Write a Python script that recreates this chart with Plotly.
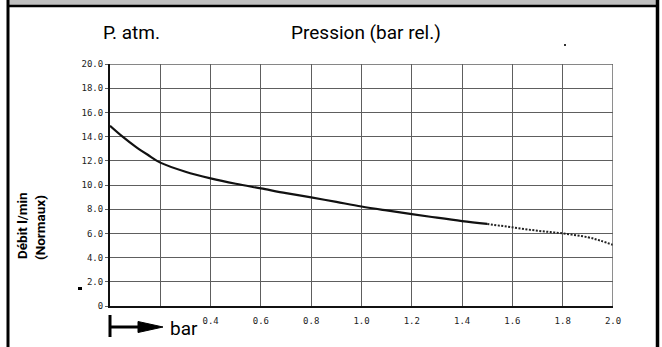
import plotly.graph_objects as go

# Flow curve: measured (solid) part and extrapolated (dotted) part
pressure_solid = [0.0, 0.05, 0.1, 0.15, 0.2, 0.3, 0.4, 0.5, 0.6, 0.7, 0.8, 0.9, 1.0, 1.1, 1.2, 1.3, 1.4, 1.5]
flow_solid = [14.9, 14.0, 13.2, 12.5, 11.85, 11.1, 10.55, 10.1, 9.72, 9.33, 8.98, 8.6, 8.22, 7.9, 7.6, 7.3, 7.02, 6.78]
pressure_dotted = [1.5, 1.6, 1.7, 1.8, 1.9, 1.95, 2.0]
flow_dotted = [6.78, 6.5, 6.22, 6.0, 5.68, 5.4, 5.05]

x_ticks = [0.0, 0.2, 0.4, 0.6, 0.8, 1.0, 1.2, 1.4, 1.6, 1.8, 2.0]
x_tick_labels = ["", "", "0.4", "0.6", "0.8", "1.0", "1.2", "1.4", "1.6", "1.8", "2.0"]
y_ticks = [0, 2, 4, 6, 8, 10, 12, 14, 16, 18, 20]
y_tick_labels = ["0", "2.0", "4.0", "6.0", "8.0", "10.0", "12.0", "14.0", "16.0", "18.0", "20.0"]

W, H = 662, 347
ML, MR, MT, MB = 110, 49, 64, 41
PW, PH = W - ML - MR, H - MT - MB


def px(x):
    return (x - ML) / PW


def py(y):
    return (H - MB - y) / PH


SANS = "Roboto, Liberation Sans, sans-serif"
TICKFONT = dict(family="DejaVu Sans Mono, monospace", size=9, color="#222")
GRID = "#5e5e5e"

fig = go.Figure()
fig.add_trace(go.Scatter(x=pressure_solid, y=flow_solid, mode="lines",
                         line=dict(color="#111", width=2.2, shape="spline"),
                         hoverinfo="skip"))
fig.add_trace(go.Scatter(x=pressure_dotted, y=flow_dotted, mode="lines",
                         line=dict(color="#222", width=2, dash="2px,1.5px", shape="spline"),
                         hoverinfo="skip"))

fig.update_xaxes(range=[0, 2], tickvals=x_ticks, ticktext=x_tick_labels,
                 showgrid=True, gridcolor=GRID, gridwidth=1.4,
                 showline=True, linecolor="#111", linewidth=2,
                 zeroline=False, ticks="", tickfont=TICKFONT, ticklabelstandoff=5,
                 fixedrange=True)
fig.update_yaxes(range=[0, 20], tickvals=y_ticks, ticktext=y_tick_labels,
                 showgrid=True, gridcolor=GRID, gridwidth=1.4,
                 showline=True, linecolor="#111", linewidth=2,
                 zeroline=False, ticks="outside", ticklen=3, tickcolor=GRID,
                 tickfont=TICKFONT, fixedrange=True)

shapes = [
    # grid frame on top and right
    dict(type="line", xref="x", yref="y", x0=0, x1=2, y0=20, y1=20, line=dict(color=GRID, width=1.4)),
    dict(type="line", xref="x", yref="y", x0=2, x1=2, y0=0, y1=20, line=dict(color=GRID, width=1.4)),
    # header strip and page border
    dict(type="rect", xref="paper", yref="paper", x0=px(9), x1=px(656), y0=py(0), y1=py(5),
         fillcolor="#c0c0c0", line=dict(width=0), layer="below"),
    dict(type="line", xref="paper", yref="paper", x0=px(7), x1=px(659), y0=py(6), y1=py(6),
         line=dict(color="black", width=2.5)),
    dict(type="line", xref="paper", yref="paper", x0=px(8), x1=px(8), y0=py(0), y1=py(347),
         line=dict(color="black", width=3)),
    dict(type="line", xref="paper", yref="paper", x0=px(657.5), x1=px(657.5), y0=py(0), y1=py(347),
         line=dict(color="black", width=3.5)),
    # "bar" arrow
    dict(type="line", xref="paper", yref="paper", x0=px(110), x1=px(110), y0=py(315), y1=py(337),
         line=dict(color="black", width=3)),
    dict(type="line", xref="paper", yref="paper", x0=px(110), x1=px(140), y0=py(327), y1=py(327),
         line=dict(color="black", width=3)),
    dict(type="path", xref="paper", yref="paper",
         path=f"M {px(138)} {py(321.5)} L {px(163)} {py(327)} L {px(138)} {py(332.5)} Z",
         fillcolor="black", line=dict(color="black", width=1)),
    # small marks
    dict(type="rect", xref="paper", yref="paper", x0=px(78), x1=px(82), y0=py(287), y1=py(290),
         fillcolor="black", line=dict(width=0)),
    dict(type="rect", xref="paper", yref="paper", x0=px(564), x1=px(566), y0=py(44), y1=py(46),
         fillcolor="#333", line=dict(width=0)),
]

annotations = [
    dict(text="P. atm.", x=px(131), y=py(32), xref="paper", yref="paper",
         showarrow=False, font=dict(family=SANS, size=19, color="black"),
         xanchor="center", yanchor="middle"),
    dict(text="Pression (bar rel.)", x=px(366), y=py(32), xref="paper", yref="paper",
         showarrow=False, font=dict(family=SANS, size=19, color="black"),
         xanchor="center", yanchor="middle"),
    dict(text="<b>Débit l/min</b>", x=px(22), y=py(226), xref="paper", yref="paper",
         showarrow=False, textangle=-90, font=dict(family=SANS, size=13.5, color="black"),
         xanchor="center", yanchor="middle"),
    dict(text="<b>(Normaux)</b>", x=px(40), y=py(228), xref="paper", yref="paper",
         showarrow=False, textangle=-90, font=dict(family=SANS, size=13.5, color="black"),
         xanchor="center", yanchor="middle"),
    dict(text="bar", x=px(168), y=py(328), xref="paper", yref="paper",
         showarrow=False, font=dict(family=SANS, size=19, color="black"),
         xanchor="left", yanchor="middle"),
]

fig.update_layout(width=W, height=H, margin=dict(l=ML, r=MR, t=MT, b=MB),
                  paper_bgcolor="white", plot_bgcolor="white", showlegend=False,
                  shapes=shapes, annotations=annotations)

fig.write_html("out.html", config={"displayModeBar": False})
